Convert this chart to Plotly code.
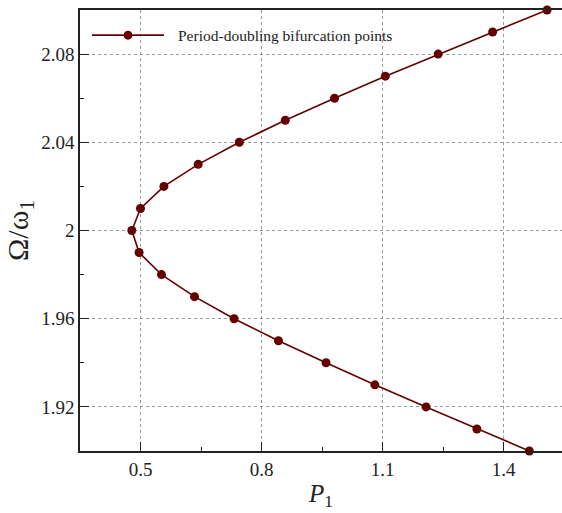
import plotly.graph_objects as go

# Period-doubling bifurcation points: forcing amplitude P1 vs frequency ratio
p1_upper = [0.4785, 0.500, 0.558, 0.643, 0.745, 0.859, 0.981, 1.107, 1.238, 1.373, 1.508]
omega_upper = [2.00, 2.01, 2.02, 2.03, 2.04, 2.05, 2.06, 2.07, 2.08, 2.09, 2.10]
p1_lower = [0.4965, 0.552, 0.634, 0.732, 0.842, 0.960, 1.081, 1.208, 1.334, 1.464]
omega_lower = [1.99, 1.98, 1.97, 1.96, 1.95, 1.94, 1.93, 1.92, 1.91, 1.90]

x_ticks = [0.5, 0.8, 1.1, 1.4]
x_tick_text = ["0.5", "0.8", "1.1", "1.4"]
y_ticks = [1.92, 1.96, 2.00, 2.04, 2.08]
y_tick_text = ["1.92", "1.96", "2", "2.04", "2.08"]

series_name = "Period-doubling bifurcation points"

# full curve: upper branch traced from top down to the turning point, then the lower branch
p1 = p1_upper[::-1] + p1_lower
omega = omega_upper[::-1] + omega_lower

color = "#640000"
font_family = "Liberation Serif, Times New Roman, serif"

fig = go.Figure()
fig.add_trace(go.Scatter(
    x=p1, y=omega, mode="lines+markers", name=series_name,
    line=dict(color=color, width=1.6),
    marker=dict(color=color, size=9),
    showlegend=False, cliponaxis=False,
))

axis_common = dict(
    showline=True, linecolor="#222", linewidth=1.5,
    showgrid=True, gridcolor="#9a9a9a", griddash="3px,3px", gridwidth=1,
    zeroline=False, ticks="inside", ticklen=9, tickcolor="#222", tickwidth=1.2,
    tickfont=dict(family=font_family, size=19, color="#222"),
)

fig.update_xaxes(
    range=[0.35, 1.545], tickvals=x_ticks, ticktext=x_tick_text,
    mirror=True,
    minor=dict(ticks="inside", ticklen=4, dtick=0.15, tick0=0.5, tickcolor="#222", showgrid=False),
    title=dict(text="<i>P</i><sub>1</sub>", font=dict(family=font_family, size=25, color="#222"), standoff=6),
    **axis_common,
)
fig.update_yaxes(
    range=[1.90, 2.10], tickvals=y_ticks, ticktext=y_tick_text,
    minor=dict(ticks="inside", ticklen=4, dtick=0.02, tick0=1.90, tickcolor="#222", showgrid=False),
    title=dict(text="Ω/ω<sub>1</sub>", font=dict(family=font_family, size=30, color="#222"), standoff=4),
    **axis_common,
)

# legend key drawn in the upper-left corner of the plot area
legend_y = 0.943
fig.add_shape(type="line", xref="paper", yref="paper",
              x0=0.025, x1=0.174, y0=legend_y, y1=legend_y,
              line=dict(color=color, width=1.6))
fig.add_shape(type="circle", xref="paper", yref="paper",
              xsizemode="pixel", ysizemode="pixel",
              xanchor=0.0996, yanchor=legend_y, x0=-4.5, x1=4.5, y0=-4.5, y1=4.5,
              fillcolor=color, line=dict(color=color, width=0))
fig.add_annotation(xref="paper", yref="paper", x=0.199, y=legend_y,
                   xanchor="left", yanchor="middle", showarrow=False,
                   text=series_name,
                   font=dict(family=font_family, size=15.5, color="#222"))

fig.update_layout(
    width=562, height=513,
    margin=dict(l=80, r=0, t=10, b=62, autoexpand=False),
    plot_bgcolor="white", paper_bgcolor="white",
    showlegend=False,
)

fig.write_html("out.html")
